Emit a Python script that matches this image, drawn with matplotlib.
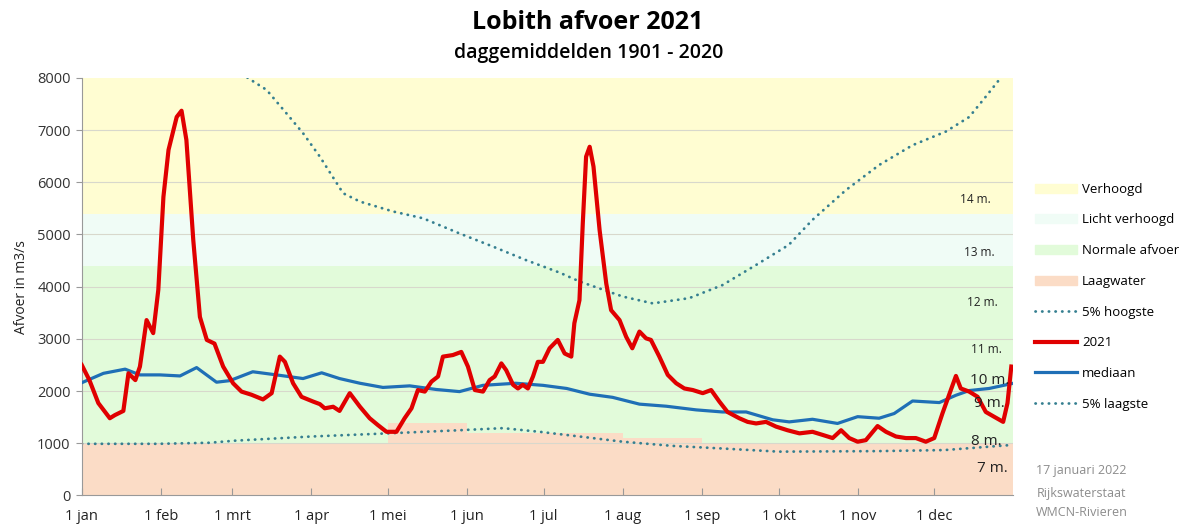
import matplotlib
matplotlib.use("Agg")
import matplotlib.pyplot as plt
from matplotlib.patches import Patch
from matplotlib.lines import Line2D

plt.rcParams['font.family'] = ['Open Sans', 'DejaVu Sans']

# month starts (day of year, 2021)
month_days = [0, 31, 59, 90, 120, 151, 181, 212, 243, 273, 304, 334]
month_labels = ['1 jan', '1 feb', '1 mrt', '1 apr', '1 mei', '1 jun',
                '1 jul', '1 aug', '1 sep', '1 okt', '1 nov', '1 dec']

# band thresholds (m3/s)
laag_days = [0, 120, 151, 212, 243, 365]
laag_vals = [1000, 1380, 1200, 1100, 980, 980]
normaal_top = 4400
licht_top = 5400

# afvoer 2021
red_days = [0, 3, 6.5, 11, 13, 16.3, 18.3, 21, 22.8, 25.4,
            28, 30, 32, 34, 37.2, 39.1, 41, 43.7, 46.3, 49,
            52, 55.4, 59.3, 62.6, 66.5, 71, 74.4, 77.6, 79.6, 82.8,
            86.1, 90.6, 93.3, 95.2, 98.5, 101, 105, 109, 112.8, 116,
            119.4, 123.3, 126.5, 129.2, 131.7, 134.4, 137, 139.6, 141.5, 145.4,
            148.7, 151.3, 154, 157.2, 159.8, 161.8, 164.4, 166.3, 169, 170.9,
            172.8, 174.8, 176.8, 178.7, 180.7, 183.3, 186.5, 189.2, 191.8, 193,
            195, 196.3, 197.6, 199, 200.5, 202.9, 205.5, 207.4, 210.7, 213.3,
            215.7, 218.5, 221.1, 223, 226.3, 229.6, 232.9, 236.1, 239.4, 243.3,
            246.6, 249.8, 253, 257.6, 260.9, 264.2, 268.1, 272, 276.5, 281.2,
            286.3, 290.3, 294.2, 297.5, 300.7, 304, 307.2, 311.8, 315.1, 319,
            322.9, 326.8, 330.7, 334, 337.2, 340.5, 342.5, 344.4, 347.7, 351,
            354.2, 357.4, 361, 362.7, 364.2]
red_vals = [2500, 2210, 1770, 1480, 1540, 1620, 2340, 2210, 2470, 3360,
            3110, 3940, 5720, 6620, 7250, 7370, 6810, 4890, 3420, 2980,
            2910, 2470, 2150, 1990, 1930, 1840, 1960, 2660, 2560, 2150,
            1890, 1800, 1750, 1670, 1700, 1620, 1960, 1700, 1480, 1350,
            1220, 1220, 1480, 1670, 2020, 1990, 2180, 2280, 2660, 2690,
            2750, 2470, 2020, 1990, 2210, 2280, 2530, 2400, 2120, 2050,
            2120, 2050, 2280, 2560, 2560, 2820, 2980, 2720, 2660, 3300,
            3740, 5210, 6490, 6680, 6300, 5080, 4060, 3550, 3360, 3040,
            2820, 3140, 3010, 2980, 2660, 2310, 2150, 2050, 2020, 1960,
            2020, 1800, 1600, 1480, 1410, 1380, 1410, 1320, 1250, 1190,
            1220, 1160, 1100, 1250, 1100, 1030, 1060, 1330, 1220, 1130,
            1100, 1100, 1030, 1100, 1570, 2020, 2290, 2050, 1990, 1890,
            1600, 1510, 1410, 1770, 2470]

# mediaan
med_days = [0, 8.5, 17, 22.8, 30.6, 38.5, 45, 52.8, 58, 67,
            76.3, 86.7, 94, 101, 109, 118, 128.5, 139, 148, 157.2,
            170, 180.7, 190, 199, 208, 218.5, 229, 240.7, 251, 260.3,
            270.7, 277.2, 286.3, 296.1, 304, 312.4, 318.3, 325.5, 336, 342.5,
            347.7, 355.5, 365]
med_vals = [2160, 2340, 2420, 2310, 2310, 2290, 2450, 2170, 2200, 2370,
            2310, 2240, 2350, 2240, 2150, 2070, 2100, 2030, 1990, 2110,
            2150, 2110, 2050, 1940, 1880, 1750, 1710, 1640, 1600, 1600,
            1450, 1410, 1460, 1380, 1510, 1480, 1570, 1810, 1780, 1920,
            2010, 2050, 2150]

# 5% hoogste
hi_days = [55, 65, 72.4, 80.2, 86.7, 93.3, 102.4, 109, 122, 133.7,
           148, 161, 174, 187.2, 195, 212, 223.7, 238, 251, 264,
           277, 286.3, 299.4, 312.4, 325.5, 338.5, 347.7, 354.2, 359.4, 365]
hi_vals = [8600, 8000, 7770, 7320, 6940, 6490, 5790, 5630, 5440, 5310,
           5020, 4770, 4510, 4270, 4100, 3810, 3680, 3780, 4030, 4410,
           4800, 5280, 5850, 6330, 6710, 6970, 7250, 7640, 7960, 8300]

# 5% laagste
lo_days = [0, 30, 50, 60, 90, 120, 148, 165, 179.4, 195,
           212, 231.5, 251, 273, 312, 338, 365]
lo_vals = [990, 990, 1010, 1050, 1130, 1190, 1250, 1290, 1220, 1130,
           1030, 950, 900, 840, 850, 870, 970]

# waterstanden
stand_labels = ['14 m.', '13 m.', '12 m.', '11 m.', '10 m.', '9 m.', '8 m.', '7 m.']
stand_days = [350.3, 351.6, 353, 354.6, 355.8, 355.5, 354.4, 356.7]
stand_vals = [5670, 4650, 3690, 2800, 2210, 1770, 1040, 520]
stand_big = [False, False, False, False, True, True, True, True]

c_verh = '#fffdd2'
c_licht = '#f0fcf6'
c_norm = '#e2fbda'
c_laag = '#fbdcc6'
c_dot = '#357f90'
c_red = '#e00000'
c_blue = '#1f6fb6'

fig = plt.figure(figsize=(11.83, 5.26), dpi=100)
ax = fig.add_axes([0.0691, 0.058, 0.7875, 0.794])

ax.axhspan(licht_top, 8000, color=c_verh, lw=0, zorder=0)
ax.axhspan(normaal_top, licht_top, color=c_licht, lw=0, zorder=0)
ax.axhspan(0, normaal_top, color=c_norm, lw=0, zorder=0)
ax.fill_between(laag_days, 0, laag_vals, step='post', color=c_laag, lw=0, zorder=0.5)

for v in range(1000, 8000, 1000):
    ax.axhline(v, color='#d8d8cc', lw=0.8, zorder=1)

ax.plot(hi_days, hi_vals, color=c_dot, lw=2, linestyle=(0, (0.1, 2.3)),
        dash_capstyle='round', zorder=2)
ax.plot(lo_days, lo_vals, color=c_dot, lw=2, linestyle=(0, (0.1, 2.3)),
        dash_capstyle='round', zorder=2)
ax.plot(med_days, med_vals, color=c_blue, lw=2.3, zorder=3)
ax.plot(red_days, red_vals, color=c_red, lw=3, zorder=4, solid_joinstyle='round')

for lab, d, v, big in zip(stand_labels, stand_days, stand_vals, stand_big):
    ax.text(d, v, lab, ha='center', va='center', color='#222222',
            fontsize=11 if big else 8.5, zorder=5)

ax.set_xlim(0, 365)
ax.set_ylim(0, 8000)
ax.set_xticks(month_days)
ax.set_xticklabels(month_labels)
ax.set_yticks(range(0, 8001, 1000))
ax.tick_params(axis='x', direction='in', length=5, color='#999999',
               labelsize=10.5, labelcolor='#222222', pad=10)
ax.tick_params(axis='y', length=4, color='#999999', labelsize=10.5,
               labelcolor='#333333', pad=4)
for s in ['top', 'right']:
    ax.spines[s].set_visible(False)
for s in ['left', 'bottom']:
    ax.spines[s].set_color('#999999')
ax.set_ylabel('Afvoer in m3/s', fontsize=10, color='#222222', labelpad=6)

fig.text(0.497, 0.958, 'Lobith afvoer 2021', ha='center', va='center',
         fontsize=18, fontweight='bold')
fig.text(0.498, 0.899, 'daggemiddelden 1901 - 2020', ha='center', va='center',
         fontsize=14, fontweight='semibold')

handles = [Patch(color=c_verh), Patch(color=c_licht), Patch(color=c_norm), Patch(color=c_laag),
           Line2D([], [], color=c_dot, lw=2, linestyle=(0, (0.1, 2.3)), dash_capstyle='round'),
           Line2D([], [], color=c_red, lw=3),
           Line2D([], [], color=c_blue, lw=2.3),
           Line2D([], [], color=c_dot, lw=2, linestyle=(0, (0.1, 2.3)), dash_capstyle='round')]
labels = ['Verhoogd', 'Licht verhoogd', 'Normale afvoer', 'Laagwater',
          '5% hoogste', '2021', 'mediaan', '5% laagste']
fig.legend(handles, labels, loc='upper left', bbox_to_anchor=(0.869, 0.665),
           frameon=False, fontsize=9.5, handlelength=3.2, handletextpad=0.4,
           labelspacing=1.34, borderpad=0)

fig.text(0.876, 0.106, '17 januari 2022', color='#8c8c8c', fontsize=9, va='center')
fig.text(0.876, 0.061, 'Rijkswaterstaat', color='#8c8c8c', fontsize=9, va='center')
fig.text(0.876, 0.025, 'WMCN-Rivieren', color='#8c8c8c', fontsize=9, va='center')

fig.savefig('out.png', dpi=100)
